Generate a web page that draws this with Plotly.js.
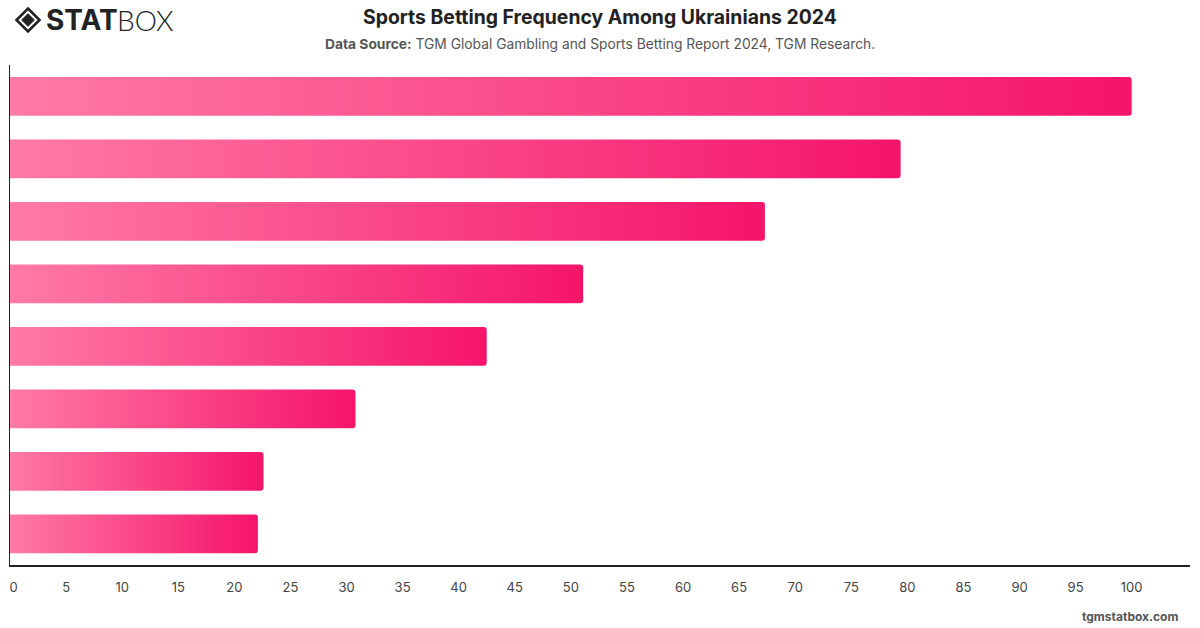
<!DOCTYPE html>
<html>
<head>
<meta charset="utf-8">
<script src="https://cdn.plot.ly/plotly-3.0.1.min.js"></script>
<style>
  html, body { margin: 0; padding: 0; background: #fff; }
  #chart { width: 1200px; height: 628px; }
</style>
</head>
<body>
<div id="chart"></div>
<script>
// Data (top to bottom as shown)
const categories = [
  "Category A", "Category B", "Category C", "Category D",
  "Category E", "Category F", "Category G", "Category H"
];
const values = [100, 79.4, 67.3, 51.1, 42.5, 30.8, 22.6, 22.1];
const xTickValues = [0, 5, 10, 15, 20, 25, 30, 35, 40, 45, 50, 55, 60, 65, 70, 75, 80, 85, 90, 95, 100];
const xTickLabels = ["  0", "5", "10", "15", "20", "25", "30", "35", "40", "45", "50", "55", "60", "65", "70", "75", "80", "85", "90", "95", "100"];

const titleText = "Sports Betting Frequency Among Ukrainians 2024";
const sourceText = "<b>Data Source:</b> TGM Global Gambling and Sports Betting Report 2024, TGM Research.";

const FONT = "Inter, 'Noto Sans', 'DejaVu Sans', sans-serif";

// logo geometry helpers (pixel -> paper)
const W = 1200, H = 628, ML = 10, MR = 10, MT = 65, MB = 63;
const px = v => (v - ML) / (W - ML - MR);
const py = v => (H - MB - v) / (H - MT - MB);
function diamondPath(cx, cy, r) {
  return "M " + px(cx) + "," + py(cy - r) + " L " + px(cx + r) + "," + py(cy) +
         " L " + px(cx) + "," + py(cy + r) + " L " + px(cx - r) + "," + py(cy) + " Z";
}

const trace = {
  type: "bar",
  orientation: "h",
  y: categories,
  x: values,
  width: 0.62,
  marker: { color: "#fa4a87", line: { width: 0 } },
  hoverinfo: "x+y"
};

const layout = {
  width: W,
  height: H,
  paper_bgcolor: "#ffffff",
  plot_bgcolor: "#ffffff",
  margin: { l: ML, r: MR, t: MT, b: MB },
  showlegend: false,
  barcornerradius: 3,
  font: { family: FONT, color: "#444" },
  xaxis: {
    range: [0, 105.2],
    tickmode: "array",
    tickvals: xTickValues,
    ticktext: xTickLabels,
    showgrid: false,
    zeroline: false,
    showline: true,
    linecolor: "#222",
    linewidth: 1.5,
    ticks: "",
    ticklabelstandoff: 10,
    tickfont: { size: 13, color: "#444", family: FONT },
    fixedrange: true
  },
  yaxis: {
    type: "category",
    autorange: "reversed",
    showgrid: false,
    zeroline: false,
    showline: true,
    linecolor: "#222",
    linewidth: 1.5,
    showticklabels: false,
    ticks: "",
    fixedrange: true
  },
  shapes: [
    { type: "path", xref: "paper", yref: "paper", path: diamondPath(28, 20, 11.5),
      line: { color: "#222", width: 2.6 }, fillcolor: "rgba(0,0,0,0)", layer: "above" },
    { type: "path", xref: "paper", yref: "paper", path: diamondPath(28, 20, 6.5),
      line: { color: "#222", width: 0.5 }, fillcolor: "#222", layer: "above" }
  ],
  annotations: [
    {
      xref: "paper", yref: "paper", x: 0.5, y: 1,
      xanchor: "center", yanchor: "bottom",
      text: "<b>" + titleText + "</b>",
      showarrow: false,
      font: { size: 19.4, color: "#222", family: FONT },
      yshift: 34
    },
    {
      xref: "paper", yref: "paper", x: 0.5, y: 1,
      xanchor: "center", yanchor: "bottom",
      text: sourceText,
      showarrow: false,
      font: { size: 13.8, color: "#555", family: FONT },
      yshift: 11
    },
    {
      xref: "paper", yref: "paper", x: 0, y: 1,
      xanchor: "left", yanchor: "bottom",
      xshift: 34, yshift: 26,
      text: "<b>STAT</b>",
      showarrow: false,
      font: { size: 28, color: "#222", family: FONT, weight: 900 }
    },
    {
      xref: "paper", yref: "paper", x: 0, y: 1,
      xanchor: "left", yanchor: "bottom",
      xshift: 105, yshift: 26,
      text: "BOX",
      showarrow: false,
      font: { size: 28, color: "#222", family: "Lato, Inter, sans-serif", weight: 300 }
    },
    {
      xref: "paper", yref: "paper", x: 1, y: 0,
      xanchor: "right", yanchor: "top",
      xshift: -10, yshift: -42,
      text: "<b>tgmstatbox.com</b>",
      showarrow: false,
      font: { size: 12, color: "#555", family: FONT }
    }
  ]
};

Plotly.newPlot("chart", [trace], layout, { displayModeBar: false, staticPlot: true }).then(function (gd) {
  const svg = gd.querySelector(".main-svg");
  const ns = "http://www.w3.org/2000/svg";
  let defs = svg.querySelector("defs");
  if (!defs) { defs = document.createElementNS(ns, "defs"); svg.insertBefore(defs, svg.firstChild); }
  const grad = document.createElementNS(ns, "linearGradient");
  grad.setAttribute("id", "barGrad");
  grad.setAttribute("x1", "0"); grad.setAttribute("y1", "0");
  grad.setAttribute("x2", "1"); grad.setAttribute("y2", "0");
  const s1 = document.createElementNS(ns, "stop");
  s1.setAttribute("offset", "0"); s1.setAttribute("stop-color", "#ff7aa6");
  const s2 = document.createElementNS(ns, "stop");
  s2.setAttribute("offset", "1"); s2.setAttribute("stop-color", "#f5146a");
  grad.appendChild(s1); grad.appendChild(s2);
  defs.appendChild(grad);
  gd.querySelectorAll(".bars .point path").forEach(function (p) {
    p.style.fill = "url(#barGrad)";
  });
});
</script>
</body>
</html>
